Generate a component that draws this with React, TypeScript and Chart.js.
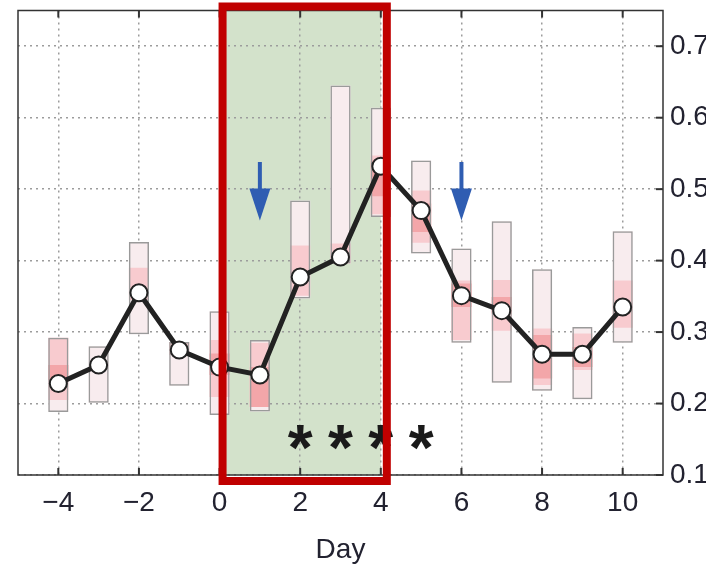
import React, { useEffect, useRef } from "react";
import { Chart, registerables } from "chart.js";

Chart.register(...registerables);

// ---- data ----
const days = [-4, -3, -2, -1, 0, 1, 2, 3, 4, 5, 6, 7, 8, 9, 10];
const lineValues = [0.228, 0.254, 0.355, 0.275, 0.251, 0.240, 0.377, 0.405, 0.532, 0.470, 0.351, 0.330, 0.269, 0.269, 0.335];
const outerLow = [0.188, 0.201, 0.297, 0.225, 0.184, 0.189, 0.347, 0.396, 0.461, 0.410, 0.285, 0.229, 0.218, 0.206, 0.285];
const outerHigh = [0.292, 0.280, 0.426, 0.286, 0.329, 0.289, 0.484, 0.645, 0.614, 0.540, 0.417, 0.455, 0.388, 0.307, 0.441];
const midLow = [0.205, null, 0.345, 0.268, 0.209, 0.195, 0.351, 0.396, 0.465, 0.425, 0.289, 0.302, 0.226, 0.247, 0.306];
const midHigh = [0.292, null, 0.390, 0.286, 0.289, 0.285, 0.421, 0.424, 0.547, 0.498, 0.372, 0.373, 0.305, 0.298, 0.372];
const innerLow = [0.233, null, null, null, 0.240, 0.195, null, null, 0.490, 0.440, 0.335, 0.326, 0.235, 0.251, null];
const innerHigh = [0.254, null, null, null, 0.270, 0.251, null, null, 0.540, 0.480, 0.368, 0.349, 0.296, 0.279, null];

const xTicks = [-4, -2, 0, 2, 4, 6, 8, 10];
const yTicks = [0.1, 0.2, 0.3, 0.4, 0.5, 0.6, 0.7];
const xRange = [-5, 11];
const yRange = [0.1, 0.75];

const shadedDays = [0, 4];
const arrowDays = [1, 6];
const arrowTop = 0.538;
const arrowTip = 0.456;
const starDays = [2, 3, 4, 5];
const starLevel = 0.153;

const FONT = "'Liberation Sans', Arial, Helvetica, sans-serif";
const TEXT = "#222230";

function rangeData(lo: (number | null)[], hi: (number | null)[]) {
  const out: any[] = [];
  days.forEach((d, i) => {
    if (lo[i] != null && hi[i] != null) out.push({ x: d, y: [lo[i], hi[i]] });
  });
  return out;
}

const decorPlugin = {
  id: "decor",
  beforeDraw(chart: any) {
    const { ctx, chartArea, scales } = chart;
    const x = scales.x;
    ctx.save();
    ctx.fillStyle = "#d3e2cb";
    const l = x.getPixelForValue(shadedDays[0]);
    const r = x.getPixelForValue(shadedDays[1]);
    ctx.fillRect(l, chartArea.top, r - l, chartArea.bottom - chartArea.top);
    ctx.restore();
  },
  afterDatasetsDraw(chart: any) {
    const { ctx, chartArea, scales } = chart;
    const x = scales.x;
    const y = scales.y;
    ctx.save();
    // frame
    ctx.strokeStyle = "#333";
    ctx.lineWidth = 1.5;
    ctx.strokeRect(chartArea.left, chartArea.top, chartArea.right - chartArea.left, chartArea.bottom - chartArea.top);
    // inward ticks
    ctx.lineWidth = 2;
    const tl = 7;
    xTicks.forEach((t) => {
      const px = x.getPixelForValue(t);
      ctx.beginPath();
      ctx.moveTo(px, chartArea.bottom);
      ctx.lineTo(px, chartArea.bottom - tl);
      ctx.moveTo(px, chartArea.top);
      ctx.lineTo(px, chartArea.top + tl);
      ctx.stroke();
    });
    yTicks.forEach((t) => {
      const py = y.getPixelForValue(t);
      ctx.beginPath();
      ctx.moveTo(chartArea.right, py);
      ctx.lineTo(chartArea.right - tl, py);
      ctx.stroke();
    });
    // arrows
    ctx.fillStyle = "#2f5db2";
    ctx.strokeStyle = "#2f5db2";
    arrowDays.forEach((d) => {
      const px = x.getPixelForValue(d);
      const top = y.getPixelForValue(arrowTop);
      const tip = y.getPixelForValue(arrowTip);
      const headH = 32;
      ctx.lineWidth = 4;
      ctx.beginPath();
      ctx.moveTo(px, top);
      ctx.lineTo(px, tip - headH + 2);
      ctx.stroke();
      ctx.beginPath();
      ctx.moveTo(px - 10.5, tip - headH);
      ctx.lineTo(px + 10.5, tip - headH);
      ctx.lineTo(px, tip);
      ctx.closePath();
      ctx.fill();
    });
    // asterisks
    ctx.fillStyle = "#1a1a1a";
    ctx.font = `bold 64px ${FONT}`;
    ctx.textAlign = "center";
    ctx.textBaseline = "alphabetic";
    const m = ctx.measureText("*");
    const off = (m.actualBoundingBoxAscent - m.actualBoundingBoxDescent) / 2;
    starDays.forEach((d) => {
      ctx.fillText("*", x.getPixelForValue(d), y.getPixelForValue(starLevel) + off);
    });
    ctx.restore();
  },
  afterDraw(chart: any) {
    const { ctx, chartArea, scales } = chart;
    const x = scales.x;
    ctx.save();
    ctx.strokeStyle = "#c00000";
    ctx.lineWidth = 8;
    const l = x.getPixelForValue(shadedDays[0]) + 3;
    const r = x.getPixelForValue(shadedDays[1]) + 6;
    const t = chartArea.top - 4;
    const b = chartArea.bottom + 6;
    ctx.strokeRect(l, t, r - l, b - t);
    ctx.restore();
  },
};

function zeroPad(s: any) {
  s.paddingTop = 0;
  s.paddingBottom = 0;
  s.paddingLeft = 0;
  s.paddingRight = 0;
}

export default function App() {
  const ref = useRef<HTMLCanvasElement>(null);
  useEffect(() => {
    if (!ref.current) return;
    const barCommon = {
      type: "bar" as const,
      grouped: false,
      barPercentage: 0.5,
      categoryPercentage: 1,
      borderSkipped: false,
    };
    const chart = new Chart(ref.current, {
      type: "bar",
      data: {
        datasets: [
          {
            type: "line",
            data: days.map((d, i) => ({ x: d, y: lineValues[i] })),
            borderColor: "#222",
            borderWidth: 5,
            pointRadius: 8.5,
            pointBackgroundColor: "#fff",
            pointBorderColor: "#222",
            pointBorderWidth: 2,
            order: 0,
          } as any,
          { ...barCommon, data: rangeData(outerLow, outerHigh), backgroundColor: "rgba(0,0,0,0)", borderColor: "#9a9a9a", borderWidth: 1.5, order: 1 } as any,
          { ...barCommon, data: rangeData(innerLow, innerHigh), backgroundColor: "#f3a6a9", borderWidth: 0, order: 2 } as any,
          { ...barCommon, data: rangeData(midLow, midHigh), backgroundColor: "#f8cbcf", borderWidth: 0, order: 3 } as any,
          { ...barCommon, data: rangeData(outerLow, outerHigh), backgroundColor: "#f8ecee", borderWidth: 0, order: 4 } as any,
        ],
      },
      options: {
        animation: false,
        responsive: false,
        maintainAspectRatio: false,
        layout: { padding: { left: 18, top: 10, right: 0, bottom: 0 } },
        plugins: { legend: { display: false }, tooltip: { enabled: false } },
        scales: {
          x: {
            type: "linear",
            min: xRange[0],
            max: xRange[1],
            offset: false,
            afterBuildTicks: (s: any) => {
              s.ticks = xTicks.map((v) => ({ value: v }));
            },
            afterFit: (s: any) => {
              s.height = 95;
              zeroPad(s);
            },
            grid: {
              offset: false,
              drawTicks: false,
              color: "#9c9c9c",
              lineWidth: 1.5,
            },
            border: { display: false, dash: [2, 4] },
            ticks: {
              padding: 11,
              color: TEXT,
              font: { family: FONT, size: 28 },
              maxRotation: 0,
              autoSkip: false,
              callback: (v: any) => (Number(v) < 0 ? "\u2212" + Math.abs(Number(v)) : String(v)),
            },
            title: {
              display: true,
              text: "Day",
              color: TEXT,
              font: { family: FONT, size: 28 },
              padding: { top: 0, bottom: 3 },
            },
          },
          y: {
            type: "linear",
            position: "right",
            min: yRange[0],
            max: yRange[1],
            afterBuildTicks: (s: any) => {
              s.ticks = yTicks.map((v) => ({ value: v }));
            },
            afterFit: (s: any) => {
              s.width = 87;
              zeroPad(s);
            },
            grid: {
              drawTicks: false,
              color: "#9c9c9c",
              lineWidth: 1.5,
            },
            border: { display: false, dash: [2, 4] },
            ticks: {
              padding: 7,
              color: TEXT,
              font: { family: FONT, size: 28 },
              autoSkip: false,
              callback: (v: any) => Number(v).toFixed(1),
            },
          },
        },
      },
      plugins: [decorPlugin],
    } as any);
    return () => chart.destroy();
  }, []);
  return (
    <div style={{ position: "fixed", left: 0, top: 0, width: 706, height: 570, overflow: "hidden", background: "#fff" }}>
      <canvas ref={ref} width={750} height={570} style={{ display: "block", width: 750, height: 570 }} />
    </div>
  );
}
